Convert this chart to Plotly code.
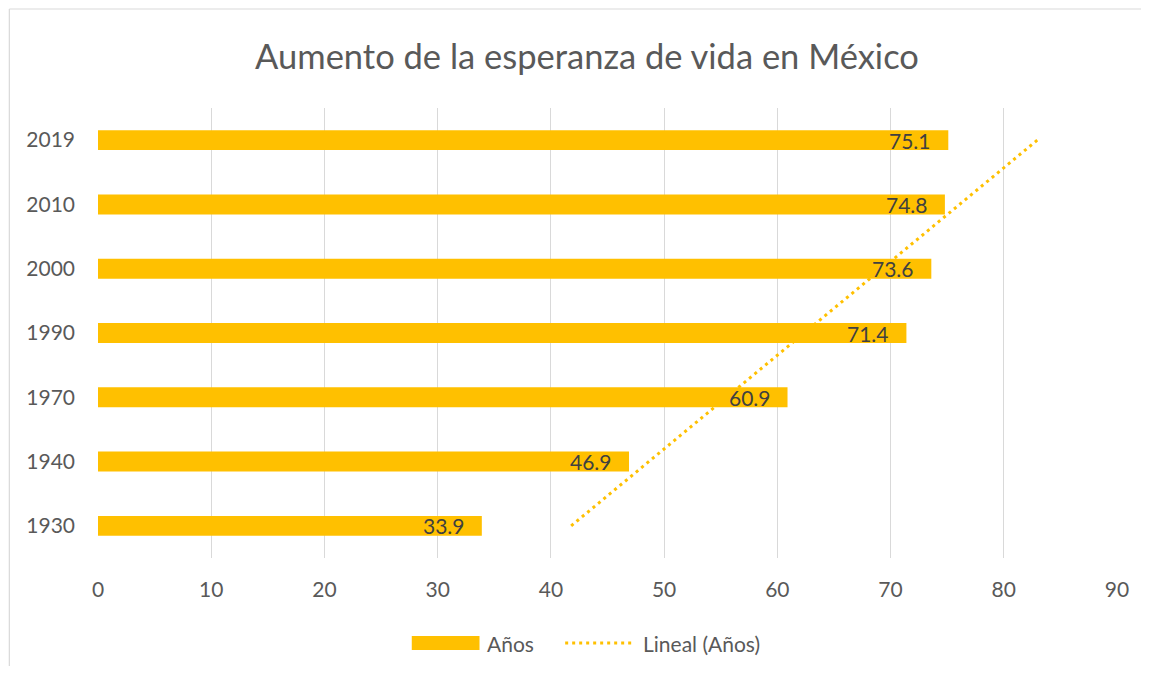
import numpy as np
import plotly.graph_objects as go

years = ["1930", "1940", "1970", "1990", "2000", "2010", "2019"]
values = [33.9, 46.9, 60.9, 71.4, 73.6, 74.8, 75.1]
x_ticks = [0, 10, 20, 30, 40, 50, 60, 70, 80, 90]
title_text = "Aumento de la esperanza de vida en México"
series_name = "Años"
trend_name = "Lineal (Años)"

BAR = "#FFC000"
GREY = "#595959"
FONT = "Lato"
OFF = 8  # page body margin

# Linear trendline (least squares over category index), as Excel computes it
idx = np.arange(1, len(values) + 1)
slope, intercept = np.polyfit(idx, values, 1)
trend = slope * idx + intercept

fig = go.Figure()
fig.add_trace(go.Bar(
    y=years, x=values, orientation="h", name=series_name,
    marker=dict(color=BAR, line=dict(width=0)), width=0.31,
    showlegend=False,
))
fig.add_trace(go.Scatter(
    y=years, x=trend, mode="lines", name=trend_name,
    line=dict(color=BAR, width=3, dash="3px,4px"),
    showlegend=False,
))

FW, FH = 1149 - 2 * OFF, 674 - 2 * OFF
W0, W1 = 98 - OFF, 1121 - OFF
H0, H1 = 108 - OFF, 558 - OFF
def px(x):
    return (x - OFF - W0) / (W1 - W0)
def py(y):
    return (H1 - (y - OFF)) / (H1 - H0)

shapes = [
    # chart frame (only left and top edges are inside the picture)
    dict(type="line", xref="paper", yref="paper", x0=px(9), x1=px(9),
         y0=py(700), y1=py(9), line=dict(color="#D9D9D9", width=1.2), layer="below"),
    dict(type="line", xref="paper", yref="paper", x0=px(9), x1=px(1200),
         y0=py(9), y1=py(9), line=dict(color="#D9D9D9", width=1.2), layer="below"),
    dict(type="rect", xref="paper", yref="paper", x0=px(413), x1=px(481),
         y0=py(650), y1=py(636), line=dict(width=0), fillcolor=BAR),
    dict(type="line", xref="paper", yref="paper", x0=px(567), x1=px(637),
         y0=py(643), y1=py(643), line=dict(color=BAR, width=3, dash="3px,4px")),
]
annotations = [
    dict(text=series_name, xref="paper", yref="paper", x=px(487), y=py(643),
         xanchor="left", yanchor="middle", showarrow=False,
         font=dict(family=FONT, size=21, color=GREY)),
    dict(text=trend_name, xref="paper", yref="paper", x=px(643), y=py(643),
         xanchor="left", yanchor="middle", showarrow=False,
         font=dict(family=FONT, size=21, color=GREY)),
]
for i, v in enumerate(values):
    annotations.append(dict(
        text=f"{v:.1f}", x=v, y=i, xref="x", yref="y", xanchor="right",
        yanchor="middle", xshift=-15, showarrow=False,
        font=dict(family=FONT, size=21, color="#404040")))

fig.update_layout(
    width=FW, height=FH,
    margin=dict(l=W0, r=FW - W1, t=H0, b=FH - H1),
    paper_bgcolor="white", plot_bgcolor="white",
    font=dict(family=FONT, color=GREY),
    title=dict(text=title_text, x=(587 - OFF) / FW, xref="container", xanchor="center",
               y=1 - (57 - OFF) / FH, yref="container", yanchor="middle",
               font=dict(family=FONT, size=34.5, color=GREY)),
    xaxis=dict(range=[0, 90], tickvals=x_ticks, showgrid=True, gridcolor="#D9D9D9",
               gridwidth=1.3, zeroline=False, showline=False,
               tickfont=dict(family=FONT, size=21, color=GREY), ticklabelstandoff=17),
    yaxis=dict(type="category", categoryorder="array", categoryarray=years,
               range=[-0.5, 6.5], showgrid=False, zeroline=False, showline=False,
               tickfont=dict(family=FONT, size=21, color=GREY), ticklabelstandoff=22),
    shapes=shapes, annotations=annotations, showlegend=False,
)

fig.write_html("out.html")
